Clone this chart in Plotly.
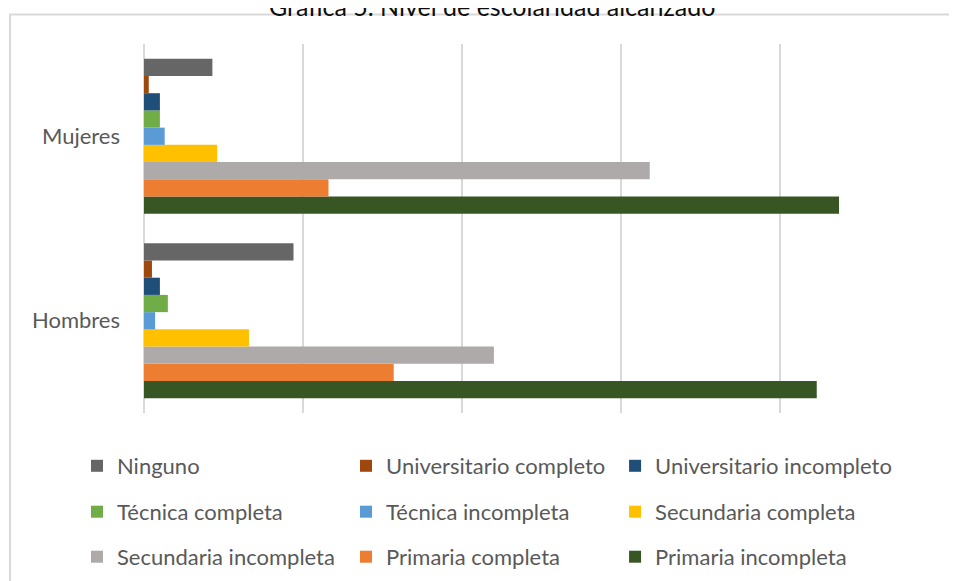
import plotly.graph_objects as go

# Datos: porcentaje por nivel de escolaridad
categorias = ["Hombres", "Mujeres"]

niveles = [
    "Ninguno",
    "Universitario completo",
    "Universitario incompleto",
    "Técnica completa",
    "Técnica incompleta",
    "Secundaria completa",
    "Secundaria incompleta",
    "Primaria completa",
    "Primaria incompleta",
]

hombres = [9.4, 0.5, 1.0, 1.5, 0.7, 6.6, 22.0, 15.7, 42.3]
mujeres = [4.3, 0.3, 1.0, 1.0, 1.3, 4.6, 31.8, 11.6, 43.7]

colores = [
    "#666666", "#9E480E", "#1F4E79",
    "#70AD47", "#5B9BD5", "#FFC000",
    "#AEAAAA", "#ED7D31", "#375623",
]

FUENTE = "Lato"
GRIS_TXT = "#595959"
GRIS_GRID = "#D9D9D9"

# una leyenda por entrada, en una rejilla de 3 columnas x 3 filas
col_x = [-0.0842, 0.2538, 0.5918]
fila_y = [-0.1436, -0.268, -0.390]

fig = go.Figure()

# se agregan al revés para que "Ninguno" quede arriba en cada grupo
for i in reversed(range(len(niveles))):
    fig.add_trace(go.Bar(
        y=categorias,
        x=[hombres[i], mujeres[i]],
        name=niveles[i],
        orientation="h",
        marker=dict(color=colores[i], line=dict(width=0)),
        legend="legend" if i == 0 else f"legend{i + 1}",
        hoverinfo="x+name",
    ))

leyendas = {}
for i in range(len(niveles)):
    clave = "legend" if i == 0 else f"legend{i + 1}"
    leyendas[clave] = dict(
        orientation="h",
        x=col_x[i % 3], xanchor="left",
        y=fila_y[i // 3], yanchor="middle",
        font=dict(family=FUENTE, size=22, color=GRIS_TXT),
        bgcolor="rgba(0,0,0,0)",
    )

fig.update_layout(
    width=957, height=581,
    margin=dict(l=136, r=25, t=36, b=176, autoexpand=False),
    paper_bgcolor="white",
    plot_bgcolor="white",
    barmode="group",
    bargap=0.16,
    bargroupgap=0,
    font=dict(family=FUENTE, color=GRIS_TXT),
    xaxis=dict(
        range=[0, 50.05],
        dtick=10,
        showticklabels=False,
        showgrid=True, gridcolor=GRIS_GRID, gridwidth=2,
        zeroline=True, zerolinecolor=GRIS_GRID, zerolinewidth=2,
        showline=False,
    ),
    yaxis=dict(
        categoryorder="array", categoryarray=categorias,
        showgrid=False, showline=False, zeroline=False,
        ticks="", ticklabelstandoff=23,
        tickfont=dict(family=FUENTE, size=22, color=GRIS_TXT),
    ),
    showlegend=True,
    annotations=[
        # título (queda parcialmente cortado arriba, como en el original)
        dict(text="Gráfica 5. Nivel de escolaridad alcanzado",
             xref="paper", yref="paper", x=0.4372, y=1.1024,
             xanchor="center", yanchor="middle", showarrow=False,
             font=dict(family=FUENTE, size=25, color="#0d0d0d")),
    ],
    shapes=[
        # marco del área del gráfico (se sale de la ventana a la derecha y abajo)
        dict(type="rect", xref="paper", yref="paper",
             x0=-0.1683, x1=1.1, y0=-0.6, y1=1.0799,
             line=dict(color=GRIS_GRID, width=2), fillcolor="rgba(0,0,0,0)",
             layer="below"),
    ],
    **leyendas,
)

fig.write_html("out.html")
